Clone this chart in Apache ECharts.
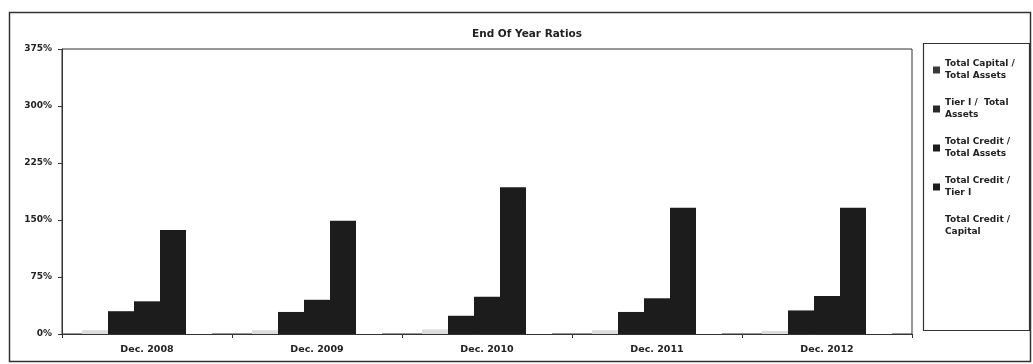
<!DOCTYPE html>
<html>
<head>
<meta charset="utf-8">
<script src="https://cdn.jsdelivr.net/npm/echarts@6/dist/echarts.min.js"></script>
<style>
  html, body { margin: 0; padding: 0; background: #fff; }
  #chart { width: 1033px; height: 364px; }
</style>
</head>
<body>
<div id="chart"></div>
<script>
// Year-end ratio data (percent)
const categories = ['Dec. 2008', 'Dec. 2009', 'Dec. 2010', 'Dec. 2011', 'Dec. 2012'];
const seriesNames = [
  'Total Capital /\nTotal Assets',
  'Tier I /  Total\nAssets',
  'Total Credit /\nTotal Assets',
  'Total Credit /\nTier I',
  'Total Credit /\nCapital'
];
const totalCapitalToAssets = [5, 5, 6, 5, 4];
const tier1ToAssets = [30, 29, 24, 29, 31];
const totalCreditToAssets = [43, 45, 49, 47, 50];
const totalCreditToTier1 = [137, 149, 193, 166, 166];
const totalCreditToCapital = [125, 136, 176, 152, 152];
const yTicks = [0, 75, 150, 225, 300, 375];

const FONT = 'DejaVu Sans';
const barColors = ['#dcdcdc', '#1c1c1c', '#1c1c1c', '#1c1c1c', '#ffffff'];
const legendIcons = ['#3a3a3a', '#2a2a2a', '#1c1c1c', '#1c1c1c', '#ffffff'];
const values = [totalCapitalToAssets, tier1ToAssets, totalCreditToAssets, totalCreditToTier1, totalCreditToCapital];

const chart = echarts.init(document.getElementById('chart'), null, { renderer: 'canvas' });

chart.setOption({
  backgroundColor: '#fff',
  animation: false,
  title: {
    text: 'End Of Year Ratios',
    left: 522,
    top: 24,
    textAlign: 'center',
    textStyle: { fontFamily: FONT, fontSize: 10.5, fontWeight: 'bold', color: '#222' }
  },
  graphic: [
    // outer chart frame
    { type: 'rect', shape: { x: 9.5, y: 12.5, width: 1021, height: 349 },
      style: { fill: null, stroke: '#333', lineWidth: 1.5 }, silent: true },
    // legend box
    { type: 'rect', shape: { x: 923.5, y: 43.5, width: 106, height: 287 },
      style: { fill: null, stroke: '#333', lineWidth: 1.2 }, silent: true }
  ],
  legend: {
    orient: 'vertical',
    left: 928,
    top: 53,
    itemWidth: 7,
    itemHeight: 7,
    itemGap: 15,
    icon: 'rect',
    textStyle: { fontFamily: FONT, fontSize: 9, fontWeight: 'bold', color: '#222', lineHeight: 12 },
    data: seriesNames.map((n, i) => ({ name: n, itemStyle: { color: legendIcons[i] } }))
  },
  grid: {
    left: 62, right: 121, top: 49, bottom: 30,
    show: true, borderColor: '#333', borderWidth: 1, backgroundColor: 'transparent'
  },
  xAxis: {
    type: 'category',
    data: categories,
    z: 5,
    axisLine: { lineStyle: { color: '#333', width: 1 } },
    axisTick: { show: true, alignWithLabel: false, length: 4, lineStyle: { color: '#333' } },
    axisLabel: { fontFamily: FONT, fontSize: 9.5, fontWeight: 'bold', color: '#222', margin: 11 }
  },
  yAxis: {
    type: 'value',
    min: yTicks[0],
    max: yTicks[yTicks.length - 1],
    interval: yTicks[1] - yTicks[0],
    axisLine: { show: true, lineStyle: { color: '#333', width: 1 } },
    axisTick: { show: true, length: 4, lineStyle: { color: '#333' } },
    splitLine: { show: false },
    axisLabel: { fontFamily: FONT, fontSize: 9, fontWeight: 'bold', color: '#222', margin: 10,
      formatter: '{value}%' }
  },
  series: seriesNames.map((n, i) => ({
    name: n,
    type: 'bar',
    data: values[i],
    barGap: '0%',
    barCategoryGap: '23.5%',
    itemStyle: { color: barColors[i] }
  }))
});
</script>
</body>
</html>
